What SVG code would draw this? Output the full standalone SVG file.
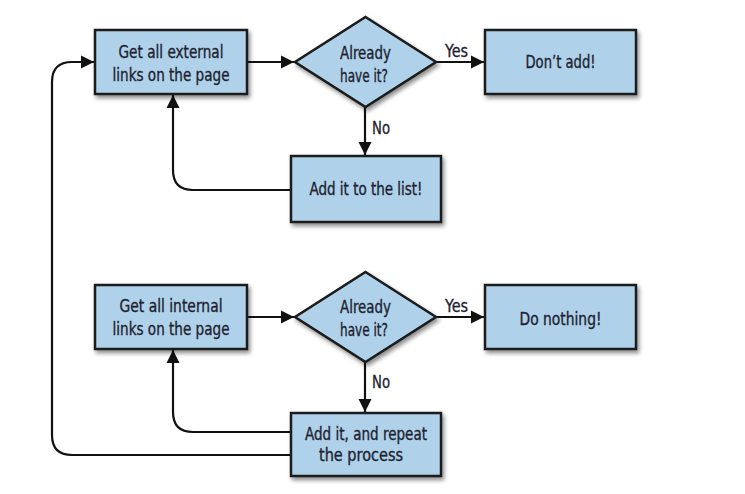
<svg xmlns="http://www.w3.org/2000/svg" width="745" height="494" viewBox="0 0 745 494">
<style>
.box{fill:#afd2ea;stroke:#1a1a1a;stroke-width:2.5;filter:url(#sh)}
.t{font-family:"DejaVu Sans Condensed","Liberation Sans",sans-serif;font-size:18px;fill:#1e2230;stroke:#1e2230;stroke-width:0.35;text-anchor:middle}
.lbl{font-family:"DejaVu Sans Condensed","Liberation Sans",sans-serif;font-size:17px;fill:#1e2230;stroke:#1e2230;stroke-width:0.3}
.c{fill:none;stroke:#111;stroke-width:2.2}
</style>
<defs>
<filter id="sh" x="-10%" y="-10%" width="130%" height="140%">
<feDropShadow dx="2" dy="3" stdDeviation="2" flood-color="#000" flood-opacity="0.45"/>
</filter>
<marker id="a" viewBox="0 0 10 10" refX="10" refY="5" markerWidth="6" markerHeight="6" markerUnits="strokeWidth" orient="auto">
<path d="M0,0 L10,5 L0,10 z" fill="#111"/>
</marker>
</defs>
<rect width="745" height="494" fill="#fff"/>
<g id="connectors">
<path class="c" d="M247,62 H294" marker-end="url(#a)"/>
<path class="c" d="M436,62 H484" marker-end="url(#a)"/>
<path class="c" d="M365,107 V155" marker-end="url(#a)"/>
<path class="c" d="M291,190 H193 Q173,190 173,170 V95" marker-end="url(#a)"/>
<path class="c" d="M247,317 H294" marker-end="url(#a)"/>
<path class="c" d="M436,317 H484" marker-end="url(#a)"/>
<path class="c" d="M365,361 V412" marker-end="url(#a)"/>
<path class="c" d="M291,432 H193 Q173,432 173,412 V350" marker-end="url(#a)"/>
<path class="c" d="M291,455 H72 Q52,455 52,435 V82 Q52,62 72,62 H94" marker-end="url(#a)"/>
<text class="lbl" x="445" y="57" textLength="23" lengthAdjust="spacingAndGlyphs">Yes</text>
<text class="lbl" x="372" y="134" textLength="18" lengthAdjust="spacingAndGlyphs">No</text>
<text class="lbl" x="445" y="312" textLength="23" lengthAdjust="spacingAndGlyphs">Yes</text>
<text class="lbl" x="372" y="388" textLength="18" lengthAdjust="spacingAndGlyphs">No</text>
</g>
<g id="n1"><rect class="box" x="95" y="30" width="152" height="64"/><text class="t" x="171" y="58" textLength="105" lengthAdjust="spacingAndGlyphs">Get all external</text><text class="t" x="171" y="81" textLength="117" lengthAdjust="spacingAndGlyphs">links on the page</text></g>
<g id="n2"><polygon class="box" points="365.5,17 436,62 365.5,107 295,62"/><text class="t" x="365.5" y="59" textLength="51" lengthAdjust="spacingAndGlyphs">Already</text><text class="t" x="364" y="82" textLength="48" lengthAdjust="spacingAndGlyphs">have it?</text></g>
<g id="n3"><rect class="box" x="485" y="30" width="151" height="64"/><text class="t" x="560.5" y="68" textLength="70" lengthAdjust="spacingAndGlyphs">Don’t add!</text></g>
<g id="n4"><rect class="box" x="291" y="156" width="150" height="66"/><text class="t" x="366" y="195" textLength="113" lengthAdjust="spacingAndGlyphs">Add it to the list!</text></g>
<g id="n5"><rect class="box" x="95" y="285" width="152" height="64"/><text class="t" x="171" y="312" textLength="103" lengthAdjust="spacingAndGlyphs">Get all internal</text><text class="t" x="171" y="335" textLength="117" lengthAdjust="spacingAndGlyphs">links on the page</text></g>
<g id="n6"><polygon class="box" points="365.5,272 436,317 365.5,362 295,317"/><text class="t" x="365.5" y="313" textLength="51" lengthAdjust="spacingAndGlyphs">Already</text><text class="t" x="364" y="336" textLength="48" lengthAdjust="spacingAndGlyphs">have it?</text></g>
<g id="n7"><rect class="box" x="485" y="285" width="151" height="64"/><text class="t" x="560.5" y="325" textLength="82" lengthAdjust="spacingAndGlyphs">Do nothing!</text></g>
<g id="n8"><rect class="box" x="291" y="413" width="150" height="63"/><text class="t" x="366" y="440" textLength="122" lengthAdjust="spacingAndGlyphs">Add it, and repeat</text><text class="t" x="361" y="461" textLength="84" lengthAdjust="spacingAndGlyphs">the process</text></g>
</svg>
